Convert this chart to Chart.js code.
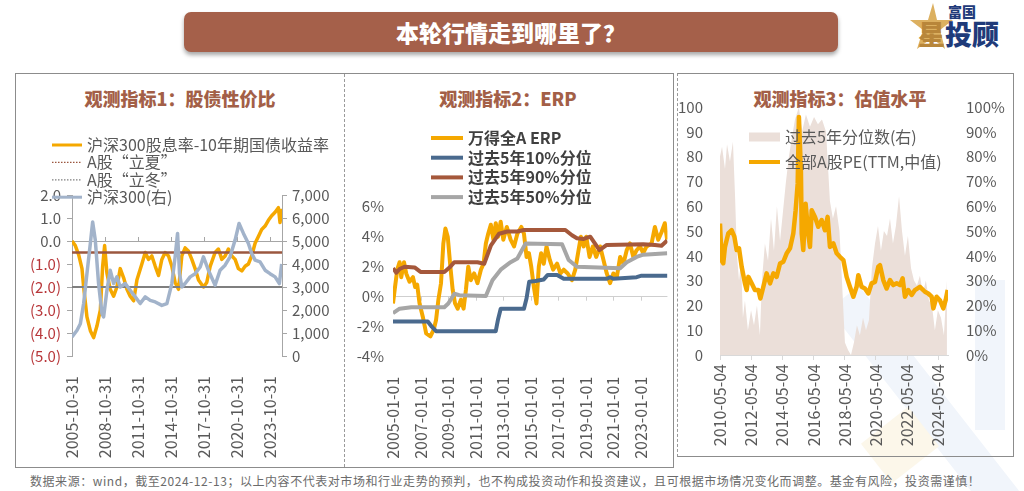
<!DOCTYPE html>
<html>
<head>
<meta charset="utf-8">
<script src="https://cdn.jsdelivr.net/npm/chart.js@4.4.1/dist/chart.umd.min.js"></script>
<style>
  body { margin: 0; width: 1024px; height: 491px; background: #fff; position: relative; overflow: hidden;
         font-family: 'Noto Sans CJK SC', 'Noto Sans', sans-serif; }
  .abs { position: absolute; }
  .bar { left: 184px; top: 12px; width: 654px; height: 40px; background: #a5604a; border-radius: 7px;
         box-shadow: 0 3px 4px rgba(0,0,0,0.35); color: #fff; font-size: 23px; font-weight: 900;
         text-align: center; line-height: 40px; }
  .ptitle { top: 86px; height: 24px; line-height: 24px; text-align: center; color: #a35f47;
            font-size: 18px; font-weight: 900; }
  .box { border: 1px solid #8c8c8c; box-sizing: border-box; }
  .note { left: 30px; top: 472px; font-size: 12px; letter-spacing: 0.55px; color: #6b6b6b; white-space: nowrap; }
  canvas { position: absolute; }
</style>
</head>
<body>
<!-- faint watermark shapes -->
<div class="abs" style="left:905px;top:270px;width:38px;height:260px;background:#f1f5fb;transform:rotate(-38deg);"></div>
<div class="abs" style="left:975px;top:280px;width:30px;height:150px;background:#f1f5fb;"></div>
<div class="abs" style="left:870px;top:420px;width:60px;height:50px;background:#fcf7ea;transform:rotate(-38deg);"></div>

<div class="abs bar">本轮行情走到哪里了？</div>

<!-- logo -->
<svg class="abs" style="left:909px;top:3px" width="44" height="48">
  <polygon points="24,0 28,17 44,17 31,27 36,46 23,35 8,46 14,27 1,17 19,17" fill="#dcb060"/>
</svg>
<div class="abs" style="left:948px;top:3px;font-size:14px;font-weight:900;color:#1f3b7a;line-height:16px;">富国</div>
<div class="abs" style="left:918px;top:19px;font-size:27px;font-weight:900;color:#b8863a;line-height:30px;">星</div>
<div class="abs" style="left:945px;top:19px;font-size:27px;font-weight:900;color:#1f3b7a;line-height:30px;">投顾</div>

<!-- panel frames -->
<div class="abs box" style="left:15px;top:73px;width:659px;height:395px;"></div>
<div class="abs" style="left:344px;top:74px;height:393px;border-left:1px dashed #9a9a9a;"></div>
<div class="abs box" style="left:677px;top:73px;width:337px;height:384px;border-left:1px dashed #9a9a9a;"></div>

<div class="abs ptitle" style="left:80px;width:200px;">观测指标1：股债性价比</div>
<div class="abs ptitle" style="left:408px;width:200px;">观测指标2：ERP</div>
<div class="abs ptitle" style="left:740px;width:200px;">观测指标3：估值水平</div>

<canvas id="c1" width="328" height="390" style="left:16px;top:76px;"></canvas>
<canvas id="c2" width="326" height="390" style="left:346px;top:76px;"></canvas>
<canvas id="c3" width="334" height="378" style="left:678px;top:76px;"></canvas>

<div class="abs note">数据来源：wind，截至2024-12-13；以上内容不代表对市场和行业走势的预判，也不构成投资动作和投资建议，且可根据市场情况变化而调整。基金有风险，投资需谨慎！</div>

<script>
// ---------- Panel 1 data: 股债性价比 ----------
const p1SpreadYears = [2005.83,2006.13,2006.44,2006.74,2006.89,2007.19,2007.50,2007.80,2008.10,2008.41,2008.62,2008.80,2009.01,2009.31,2009.62,2009.92,2010.22,2010.53,2010.83,2011.13,2011.44,2011.74,2012.19,2012.50,2012.80,2013.10,2013.41,2013.71,2014.01,2014.31,2014.62,2014.92,2015.22,2015.53,2015.83,2016.13,2016.44,2016.74,2017.04,2017.35,2017.80,2018.10,2018.41,2018.86,2019.16,2019.47,2019.77,2020.07,2020.38,2020.68,2020.98,2021.29,2021.59,2021.89,2022.19,2022.50,2022.80,2023.10,2023.41,2023.71,2024.01,2024.32,2024.62,2024.77,2024.92];
const p1Spread = [0.0,-0.2,-0.6,-1.2,-2.0,-3.3,-3.9,-4.2,-3.7,-3.0,-1.1,-0.2,-1.4,-2.1,-2.4,-2.0,-1.2,-1.6,-2.1,-2.4,-2.6,-1.7,-1.0,-0.5,-0.8,-0.65,-1.1,-1.5,-0.8,-0.5,-0.65,-1.1,-1.8,-2.1,-0.65,-0.3,-0.45,-0.8,-1.2,-1.7,-2.0,-1.8,-1.1,-0.5,-0.35,-0.8,-0.65,-0.35,-0.65,-0.8,-1.2,-1.3,-1.1,-1.0,-0.65,-0.1,0.2,0.5,0.65,0.9,1.1,1.25,1.45,0.8,1.4];
const p1HsYears = [2005.83,2006.29,2006.59,2006.89,2007.19,2007.50,2007.71,2007.95,2008.25,2008.56,2008.71,2009.01,2009.31,2009.62,2009.92,2010.22,2010.68,2011.13,2011.59,2012.04,2012.50,2012.95,2013.41,2014.01,2014.47,2014.92,2015.22,2015.44,2015.62,2015.83,2016.13,2016.59,2017.04,2017.50,2017.80,2018.25,2018.86,2019.31,2019.77,2020.22,2020.68,2021.04,2021.44,2021.89,2022.19,2022.50,2022.95,2023.41,2023.86,2024.32,2024.71,2024.92];
const p1Hs300 = [830,1120,1400,2280,3580,4890,5830,5040,3150,1840,1700,2860,3730,3150,3440,3000,3150,2860,2570,2280,2570,2420,2350,2200,2280,3150,4310,5330,3580,3000,3150,3440,3580,3870,4310,3730,3080,3730,3950,4310,5040,5760,5330,4890,4460,4170,4090,3730,3580,3440,3150,4000];
const p1Summer = -0.5;   // A股“立夏”
const p1Winter = -2.0;   // A股“立冬”
const p1Range = [2005.83, 2024.95];
const p1TickYears = [2005.83,2008.83,2011.83,2014.83,2017.83,2020.83,2023.83];
const p1TickLabels = ['2005-10-31','2008-10-31','2011-10-31','2014-10-31','2017-10-31','2020-10-31','2023-10-31'];

// ---------- Panel 2 data: ERP ----------
const p2Years = [2005.00,2005.12,2005.31,2005.48,2005.60,2005.80,2005.96,2006.20,2006.45,2006.61,2006.76,2006.93,2007.17,2007.41,2007.72,2007.96,2008.13,2008.30,2008.49,2008.66,2008.81,2008.98,2009.17,2009.34,2009.51,2009.70,2009.94,2010.13,2010.30,2010.47,2010.66,2010.90,2011.14,2011.39,2011.58,2011.75,2011.92,2012.11,2012.30,2012.47,2012.64,2012.83,2013.02,2013.27,2013.55,2013.80,2014.04,2014.33,2014.52,2014.71,2014.88,2015.05,2015.24,2015.43,2015.60,2015.77,2015.96,2016.16,2016.40,2016.64,2016.93,2017.17,2017.41,2017.70,2018.01,2018.25,2018.49,2018.66,2018.86,2019.05,2019.29,2019.53,2019.77,2020.06,2020.30,2020.54,2020.78,2021.02,2021.27,2021.51,2021.75,2021.99,2022.23,2022.47,2022.71,2022.95,2023.19,2023.43,2023.80,2024.04,2024.28,2024.52,2024.76,2024.93];
const p2Erp = [-0.45,0.45,1.8,2.3,1.3,2.3,1.55,1.0,1.3,0.65,0.8,-0.45,-1.35,-2.45,-2.65,-2.2,-1.55,-0.2,0.9,3.55,4.55,4.0,2.0,0.45,-0.45,-0.8,-0.2,-0.8,0.45,2.0,1.1,1.55,0.9,1.8,2.2,3.55,4.2,4.8,3.8,4.9,4.0,5.0,3.8,4.65,3.8,3.35,4.2,4.65,4.2,2.65,2.9,2.0,0.65,-0.45,2.0,2.9,2.2,3.35,2.45,1.8,2.2,1.55,1.8,1.55,1.1,1.8,3.1,4.0,3.35,4.0,2.65,3.35,2.65,3.35,2.45,1.55,0.9,1.55,1.3,2.65,2.2,3.1,3.55,2.65,3.1,3.35,2.9,3.35,3.55,4.65,3.8,4.3,4.9,3.8];
const p2P10Years = [2005.00,2007.53,2007.82,2008.13,2012.47,2012.64,2012.83,2014.52,2014.71,2014.90,2015.36,2015.96,2016.25,2016.93,2017.41,2020.54,2020.78,2021.02,2022.71,2023.07,2024.95];
const p2P10 = [-1.65,-1.65,-2.0,-2.3,-2.3,-1.5,-0.8,-0.8,-0.1,1.0,1.05,1.15,1.45,1.45,1.2,1.2,1.3,1.2,1.3,1.4,1.4];
const p2P90Years = [2005.00,2005.24,2005.48,2005.84,2006.57,2007.00,2008.73,2009.17,2009.46,2011.14,2011.63,2012.11,2012.71,2013.31,2014.04,2014.52,2017.53,2018.01,2018.37,2018.86,2019.34,2020.01,2020.54,2023.19,2024.04,2024.52,2024.93];
const p2P90 = [1.9,1.6,1.85,2.0,1.95,1.65,1.65,2.0,2.3,2.3,2.2,3.4,4.2,4.35,4.35,4.45,4.45,4.1,3.9,3.85,4.0,3.1,3.45,3.5,3.45,3.4,3.75];
const p2P50Years = [2005.00,2005.48,2006.33,2008.73,2009.02,2009.46,2009.82,2011.75,2012.23,2012.83,2013.55,2014.04,2014.64,2017.29,2017.77,2018.37,2021.51,2021.99,2022.71,2023.19,2024.93];
const p2P50 = [-1.1,-0.8,-0.7,-0.7,-0.45,0.2,0.1,0.05,1.1,1.8,2.3,2.55,3.55,3.5,2.45,2.0,1.9,2.3,2.65,2.8,2.9];
const p2Range = [2005.0, 2024.95];
const p2TickYears = [2005,2007,2009,2011,2013,2015,2017,2019,2021,2023];
const p2TickLabels = ['2005-01-01','2007-01-01','2009-01-01','2011-01-01','2013-01-01','2015-01-01','2017-01-01','2019-01-01','2021-01-01','2023-01-01'];

// ---------- Panel 3 data: 估值水平 ----------
const p3PeYears = [2010.34,2010.45,2010.55,2010.66,2010.87,2011.09,2011.26,2011.41,2011.56,2011.73,2011.94,2012.05,2012.16,2012.37,2012.58,2012.80,2012.93,2013.12,2013.33,2013.55,2013.76,2013.97,2014.19,2014.40,2014.61,2014.83,2015.04,2015.19,2015.32,2015.40,2015.53,2015.58,2015.68,2015.83,2016.00,2016.11,2016.22,2016.43,2016.64,2016.86,2017.07,2017.24,2017.39,2017.61,2017.82,2018.03,2018.25,2018.46,2018.67,2018.89,2019.10,2019.21,2019.42,2019.63,2019.85,2020.06,2020.28,2020.49,2020.60,2020.81,2021.02,2021.24,2021.45,2021.67,2021.88,2022.05,2022.20,2022.41,2022.63,2022.84,2023.16,2023.48,2023.69,2023.91,2024.02,2024.23,2024.44,2024.66,2024.81,2024.94];
const p3Pe = [53,38,37,43.6,49,50.3,47.7,42.3,43,35.6,28.9,26.2,31.5,28.9,26.2,26.2,22.8,27.5,32.9,28.9,32.9,31.5,36.9,37.6,40.9,43,49,58.4,69,96,74,49,42.3,61,49,43.6,58.4,55.7,51.7,54.4,50.3,55.7,43.6,45,41,39.6,38.3,31.5,27.5,23.5,27.5,32.2,27.5,26.8,24.8,28.9,29.5,35.6,36.2,30.2,26.8,30.2,28.2,28.9,28.2,30.9,23.5,26.2,24.2,26.2,27.5,25.5,24.8,23.5,18.8,23.5,22.1,18.8,22.1,26.2];
const p3PctYears = [2010.34,2010.47,2010.66,2010.79,2010.98,2011.17,2011.30,2011.43,2011.56,2011.69,2011.81,2011.94,2012.13,2012.33,2012.52,2012.71,2012.90,2013.03,2013.22,2013.42,2013.61,2013.80,2013.99,2014.19,2014.38,2014.57,2014.76,2014.96,2015.15,2015.40,2015.60,2015.85,2016.11,2016.37,2016.62,2016.88,2017.14,2017.39,2017.58,2017.78,2018.00,2018.16,2018.35,2018.55,2018.74,2018.93,2019.12,2019.31,2019.51,2019.70,2019.89,2020.08,2020.28,2020.47,2020.66,2020.85,2021.05,2021.24,2021.43,2021.62,2021.82,2022.01,2022.20,2022.39,2022.59,2022.78,2022.97,2023.16,2023.35,2023.54,2023.74,2023.93,2024.12,2024.31,2024.51,2024.70,2024.89];
const p3Pct = [0.80,0.84,0.75,0.85,0.78,0.86,0.65,0.40,0.30,0.38,0.15,0.22,0.10,0.18,0.12,0.20,0.08,0.30,0.45,0.38,0.55,0.42,0.60,0.46,0.58,0.70,0.80,0.88,0.95,1.00,0.90,0.97,0.92,0.96,0.93,0.95,0.90,0.62,0.55,0.60,0.50,0.30,0.05,0.02,0.00,0.05,0.12,0.08,0.15,0.10,0.14,0.35,0.45,0.52,0.42,0.50,0.48,0.55,0.45,0.52,0.64,0.50,0.40,0.48,0.35,0.30,0.28,0.32,0.25,0.30,0.22,0.20,0.10,0.18,0.15,0.08,0.30];
const p3Range = [2010.34, 2024.96];
const p3TickYears = [2010.34,2012.34,2014.34,2016.34,2018.34,2020.34,2022.34,2024.34];
const p3TickLabels = ['2010-05-04','2012-05-04','2014-05-04','2016-05-04','2018-05-04','2020-05-04','2022-05-04','2024-05-04'];

// ---------- helpers ----------
const FONT = "'Noto Sans CJK SC', 'Noto Sans', sans-serif";
const AXIS_GRAY = '#595959';
const zip = (xs, ys) => xs.map((x, i) => ({ x: x, y: ys[i] }));
const flat = (range, v) => [{ x: range[0], y: v }, { x: range[1], y: v }];

// draws legend rows at fixed canvas coords, text + colours from the datasets
const legendPlugin = {
  id: 'customLegend',
  afterDraw(chart, args, o) {
    const ctx = chart.ctx;
    ctx.save();
    ctx.font = o.font;
    ctx.textBaseline = 'middle';
    o.items.forEach((it, i) => {
      const ds = chart.data.datasets[it.ds];
      const y = o.y + i * o.rowH;
      if (it.box) {
        ctx.fillStyle = ds.backgroundColor;
        ctx.fillRect(o.x, y - 4.5, o.len, 9);
      } else {
        ctx.beginPath();
        ctx.strokeStyle = ds.borderColor;
        ctx.lineWidth = it.width;
        ctx.setLineDash(it.dash || []);
        ctx.moveTo(o.x, y);
        ctx.lineTo(o.x + o.len, y);
        ctx.stroke();
        ctx.setLineDash([]);
      }
      ctx.fillStyle = o.color;
      ctx.fillText(ds.label, o.x + o.len + o.gap, y);
    });
    ctx.restore();
  }
};

// small tick marks on the zero line at the x tick positions
const zeroTicks = {
  id: 'zeroTicks',
  beforeDatasetsDraw(chart, args, o) {
    const xs = chart.scales.x, ys = chart.scales[o.axis];
    const y0 = ys.getPixelForValue(0);
    const ctx = chart.ctx;
    ctx.save();
    ctx.strokeStyle = o.color;
    ctx.lineWidth = 1;
    xs.ticks.forEach(t => {
      const px = Math.round(xs.getPixelForValue(t.value)) + 0.5;
      ctx.beginPath();
      ctx.moveTo(px, y0);
      ctx.lineTo(px, y0 + o.len);
      ctx.stroke();
    });
    ctx.restore();
  }
};

function xAxis(range, tickYears, tickLabels, height, pad) {
  return {
    type: 'linear', min: range[0], max: range[1],
    afterBuildTicks: s => { s.ticks = tickYears.map(v => ({ value: v })); },
    afterFit: s => { s.height = height; },
    ticks: { autoSkip: false, minRotation: 90, maxRotation: 90, padding: pad,
             color: AXIS_GRAY, font: { family: FONT, size: 16 },
             callback: (v, i) => tickLabels[i] },
    grid: { display: false }, border: { display: false }
  };
}

const line = { pointRadius: 0, tension: 0, fill: false, borderJoinStyle: 'round' };

// ---------- Chart 1 ----------
new Chart(document.getElementById('c1'), {
  type: 'line',
  data: { datasets: [
    { ...line, label: '沪深300股息率-10年期国债收益率', data: zip(p1SpreadYears, p1Spread),
      borderColor: '#f5a800', borderWidth: 3.5, yAxisID: 'y', order: 3 },
    { ...line, label: 'A股“立夏”', data: flat(p1Range, p1Summer),
      borderColor: '#9b573f', borderWidth: 2.5, yAxisID: 'y', order: 2 },
    { ...line, label: 'A股“立冬”', data: flat(p1Range, p1Winter),
      borderColor: '#7f7f7f', borderWidth: 2, yAxisID: 'y', order: 2 },
    { ...line, label: '沪深300(右)', data: zip(p1HsYears, p1Hs300),
      borderColor: '#a2b3ca', borderWidth: 3.5, yAxisID: 'y1', order: 1 }
  ]},
  options: {
    responsive: false, animation: false, devicePixelRatio: 1,
    layout: { padding: { top: 119, left: 0, right: 0, bottom: 0 } },
    plugins: {
      legend: { display: false }, tooltip: { enabled: false },
      customLegend: { x: 36, y: 69, rowH: 17.4, len: 30, gap: 5, color: AXIS_GRAY,
        font: '16px ' + FONT,
        items: [ { ds: 0, width: 3 }, { ds: 1, width: 1.2, dash: [1.5, 1.5] },
                 { ds: 2, width: 1.2, dash: [1.5, 1.5] }, { ds: 3, width: 3 } ] },
      zeroTicks: { axis: 'y', len: -4, color: '#a6a6a6' }
    },
    scales: {
      x: xAxis(p1Range, p1TickYears, p1TickLabels, 110, 12),
      y: { position: 'left', min: -5, max: 2,
           afterFit: s => { s.width = 56; },
           ticks: { stepSize: 1, padding: 6, font: { family: FONT, size: 15 },
                    color: c => c.tick.value < 0 ? '#b8373a' : AXIS_GRAY,
                    callback: v => v < 0 ? '(' + Math.abs(v).toFixed(1) + ')' : v.toFixed(1) },
           grid: { color: c => c.tick.value === 0 ? '#a6a6a6' : 'rgba(0,0,0,0)',
                   tickColor: '#a6a6a6', tickLength: 5 },
           border: { display: true, color: '#a6a6a6' } },
      y1: { position: 'right', min: 0, max: 7000,
            afterFit: s => { s.width = 62; },
            ticks: { stepSize: 1000, padding: 5, color: AXIS_GRAY, font: { family: FONT, size: 15 },
                     callback: v => v.toLocaleString('en-US') },
            grid: { drawOnChartArea: false, tickColor: '#a6a6a6', tickLength: 5 },
            border: { display: true, color: '#a6a6a6' } }
    }
  },
  plugins: [legendPlugin, zeroTicks]
});

// ---------- Chart 2 ----------
new Chart(document.getElementById('c2'), {
  type: 'line',
  data: { datasets: [
    { ...line, label: '万得全A ERP', data: zip(p2Years, p2Erp), borderColor: '#f5a800', borderWidth: 4, order: 4 },
    { ...line, label: '过去5年10%分位', data: zip(p2P10Years, p2P10), borderColor: '#4a6a8e', borderWidth: 4, order: 3 },
    { ...line, label: '过去5年90%分位', data: zip(p2P90Years, p2P90), borderColor: '#a5583b', borderWidth: 4, order: 2 },
    { ...line, label: '过去5年50%分位', data: zip(p2P50Years, p2P50), borderColor: '#a6a6a6', borderWidth: 4, order: 1 }
  ]},
  options: {
    responsive: false, animation: false, devicePixelRatio: 1,
    layout: { padding: { top: 130.7, left: 0, right: 2, bottom: 0 } },
    plugins: {
      legend: { display: false }, tooltip: { enabled: false },
      customLegend: { x: 85, y: 62, rowH: 19.7, len: 32, gap: 5, color: '#404040',
        font: 'bold 16px ' + FONT,
        items: [ { ds: 0, width: 4 }, { ds: 1, width: 4 }, { ds: 2, width: 4 }, { ds: 3, width: 4 } ] },
      zeroTicks: { axis: 'y', len: 4, color: '#cfcfcf' }
    },
    scales: {
      x: xAxis(p2Range, p2TickYears, p2TickLabels, 109.3, 12),
      y: { min: -4, max: 6,
           afterFit: s => { s.width = 47; },
           ticks: { stepSize: 2, padding: 9, color: AXIS_GRAY, font: { family: FONT, size: 15 },
                    callback: v => v + '%' },
           grid: { color: c => c.tick.value === 0 ? '#cfcfcf' : 'rgba(0,0,0,0)', drawTicks: false },
           border: { display: false } }
    }
  },
  plugins: [legendPlugin, zeroTicks]
});

// ---------- Chart 3 ----------
const x3 = xAxis(p3Range, p3TickYears, p3TickLabels, 99, 4);
x3.grid = { display: true, drawOnChartArea: false, tickLength: 5, color: '#d9d9d9', tickColor: '#d9d9d9' };
x3.border = { display: true, color: '#d9d9d9' };

new Chart(document.getElementById('c3'), {
  type: 'line',
  data: { datasets: [
    { ...line, label: '过去5年分位数(右)', data: zip(p3PctYears, p3Pct), yAxisID: 'y1',
      fill: 'origin', backgroundColor: '#ebdfd9', borderColor: 'rgba(0,0,0,0)', borderWidth: 0, order: 1 },
    { ...line, label: '全部A股PE(TTM,中值)', data: zip(p3PeYears, p3Pe), yAxisID: 'y',
      borderColor: '#f5a800', borderWidth: 4.5, order: 0 }
  ]},
  options: {
    responsive: false, animation: false, devicePixelRatio: 1,
    layout: { padding: { top: 31, left: 0, right: 0, bottom: 0 } },
    plugins: {
      legend: { display: false }, tooltip: { enabled: false },
      customLegend: { x: 71, y: 61, rowH: 25, len: 31, gap: 5, color: AXIS_GRAY,
        font: '16px ' + FONT,
        items: [ { ds: 0, box: true }, { ds: 1, width: 4 } ] }
    },
    scales: {
      x: x3,
      y: { position: 'left', min: 0, max: 100,
           afterFit: s => { s.width = 42; },
           ticks: { stepSize: 10, padding: 9, color: AXIS_GRAY, font: { family: FONT, size: 15 } },
           grid: { display: false }, border: { display: false } },
      y1: { position: 'right', min: 0, max: 1,
            afterFit: s => { s.width = 64; },
            ticks: { stepSize: 0.1, padding: 10, color: AXIS_GRAY, font: { family: FONT, size: 15 },
                     callback: v => Math.round(v * 100) + '%' },
            grid: { display: false }, border: { display: false } }
    }
  },
  plugins: [legendPlugin]
});
</script>
</body>
</html>
